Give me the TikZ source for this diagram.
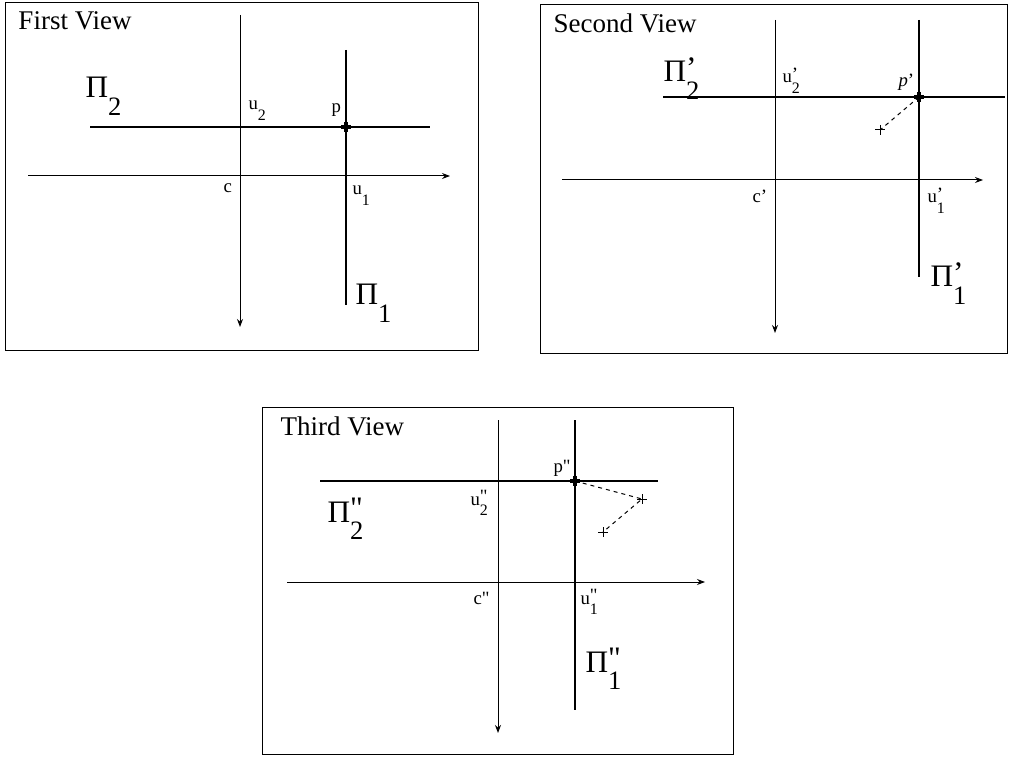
\documentclass[tikz,border=0pt]{standalone}
\usepackage{fontspec}
\setmainfont{Liberation Serif}
\usetikzlibrary{arrows.meta}

\newcommand{\lowix}[1]{\raisebox{-.55em}{\scalebox{.85}{#1}}}
\newcommand{\primix}[2]{\makebox[0pt][l]{\raisebox{.12em}{#1}}\lowix{#2}}

\begin{document}
\begin{tikzpicture}[
  x=0.4pt, y=-0.4pt,
  frame/.style={draw, line width=0.4pt},
  axis/.style ={line width=0.4pt, -{Stealth[length=3.2pt,width=2.4pt]}},
  trace/.style={line width=0.6pt},
  proj/.style ={line width=0.4pt, dash pattern=on 1.6pt off 1.6pt},
  hit/.style  ={line width=1.3pt},
  obs/.style  ={line width=0.4pt},
  title/.style={anchor=base west, inner sep=0pt, font=\fontsize{10.8}{12}\selectfont},
  lbl/.style  ={anchor=base west, inner sep=0pt, font=\fontsize{7.5}{9}\selectfont},
  plane/.style={anchor=base west, inner sep=0pt, font=\fontsize{12.5}{14}\selectfont}
]
\useasboundingbox (0,0) rectangle (1010,757);

%% --- First view ----------------------------------------------
\draw[frame] (5,3) rectangle (478,351);
\node[title] (t1) at (18,30) {First View};
\draw[axis]  (240,15) -- (240,327);
\draw[axis]  (28,176) -- (450,176);
\draw[trace] (90,127) -- (430,127);
\draw[trace] (346,50) -- (346,305);
\coordinate (p1) at (346,127);
\draw[hit] (p1) ++(-5,0) -- ++(10,0) (p1) ++(0,-5) -- ++(0,10);
\node[lbl]   (u2a) at (248,110) {u\lowix{2}};
\node[lbl]   (pa)  at (331,113) {p};
\node[lbl]   (ca)  at (223,193) {c};
\node[lbl]   (u1a) at (352,195) {u\lowix{1}};
\node[plane] (P2a) at (85,98)   {Π\lowix{2}};
\node[plane] (P1a) at (355,305) {Π\lowix{1}};

%% --- Second view ---------------------------------------------
\draw[frame] (540,5) rectangle (1007,354);
\node[title] (t2) at (553,33) {Second View};
\draw[axis]  (775,20) -- (775,333);
\draw[axis]  (562,180) -- (983,180);
\draw[trace] (663,97) -- (1005,97);
\draw[trace] (919,20) -- (919,277);
\coordinate (p2) at (919,97);
\coordinate (q2) at (880,130);
\draw[proj] (p2) -- (q2);
\draw[obs] (q2) ++(-5,0) -- ++(10,0) (q2) ++(0,-5) -- ++(0,10);
\draw[hit] (p2) ++(-5,0) -- ++(10,0) (p2) ++(0,-5) -- ++(0,10);
\node[lbl]   (u2b) at (782,83)  {u\primix{’}{2}};
\node[lbl]   (pb)  at (898,87)  {\textit{p}’};
\node[lbl]   (cb)  at (752,203) {c’};
\node[lbl]   (u1b) at (927,203) {u\primix{’}{1}};
\node[plane] (P2b) at (663,82)  {Π\primix{’}{2}};
\node[plane] (P1b) at (930,287) {Π\primix{’}{1}};

%% --- Third view ----------------------------------------------
\draw[frame] (262,408) rectangle (733,754);
\node[title] (t3) at (280,435) {Third View};
\draw[axis]  (498,420) -- (498,733);
\draw[axis]  (287,582) -- (705,582);
\draw[trace] (320,481) -- (658,481);
\draw[trace] (575,420) -- (575,710);
\coordinate (p3)  at (575,481);
\coordinate (q3a) at (642,499);
\coordinate (q3b) at (603,532);
\draw[proj] (p3) -- (q3a) -- (q3b);
\draw[obs] (q3a) ++(-5,0) -- ++(10,0) (q3a) ++(0,-5) -- ++(0,10);
\draw[obs] (q3b) ++(-5,0) -- ++(10,0) (q3b) ++(0,-5) -- ++(0,10);
\draw[hit] (p3) ++(-5,0) -- ++(10,0) (p3) ++(0,-5) -- ++(0,10);
\node[lbl]   (pc)  at (553,472) {p\textquotedbl};
\node[lbl]   (u2c) at (470,505) {u\primix{\textquotedbl}{2}};
\node[lbl]   (cc)  at (473,604) {c\textquotedbl};
\node[lbl]   (u1c) at (580,604) {u\primix{\textquotedbl}{1}};
\node[plane] (P2c) at (327,522) {Π\primix{\textquotedbl}{2}};
\node[plane] (P1c) at (585,672) {Π\primix{\textquotedbl}{1}};

\end{tikzpicture}
\end{document}
